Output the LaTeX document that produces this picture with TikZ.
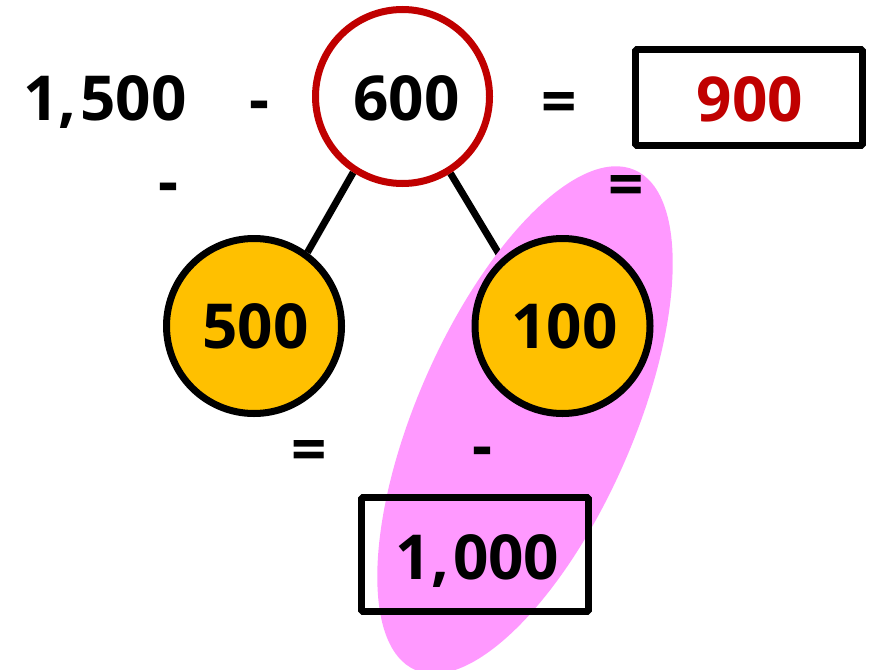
\documentclass[tikz,border=0pt]{standalone}
\usepackage{fontspec}
\setmainfont{Open Sans}[BoldFont={* Bold}]
\usetikzlibrary{backgrounds}
\definecolor{ringred}{HTML}{C00000}
\definecolor{ballorange}{HTML}{FFC000}
\definecolor{hilite}{HTML}{FF99FF}
\tikzset{
  num/.style={font=\fontsize{62}{62}\selectfont\bfseries, inner sep=0pt, anchor=base},
  sym/.style={font=\fontsize{62}{62}\selectfont\bfseries, inner sep=0pt, yshift=-8pt},
  ring/.style={circle, draw=ringred, line width=7pt, minimum size=174pt, inner sep=0pt, fill=white},
  ball/.style={circle, draw=black, line width=7pt, minimum size=175pt, inner sep=0pt, fill=ballorange},
  answerbox/.style={draw=black, line width=6.8pt, rounded corners=1.5pt, inner sep=0pt},
  link/.style={draw=black, line width=7pt}
}
\begin{document}
\begin{tikzpicture}[x=1pt,y=-1pt]
\useasboundingbox (0,0) rectangle (869,669);
\fill[hilite, rotate around={66.3:(525,420)}] (525,420) ellipse [x radius=273, y radius=108];
% boxes
\node[answerbox, minimum width=227pt, minimum height=96pt] (box900) at (749,97.5) {};
\node[answerbox, minimum width=227pt, minimum height=114pt] (box1000) at (475,554.5) {};
% circles
\node[ring] (top) at (402.5,96.5) {};
\node[ball] (left) at (254,326) {};
\node[ball] (right) at (562.5,326) {};
\begin{scope}[on background layer]
\draw[link] (top.-123) -- (left.54);
\draw[link] (top.-58) -- (right.132);
\end{scope}
% numbers
\node[num] (n1500) at (105,120) {1,\kern4pt500};
\node[num] (n600) at (406.5,120) {600};
\node[num, text=ringred] (n900) at (750,121) {900};
\node[num] (n500) at (255.5,348) {500};
\node[num] (n100) at (564.5,348) {100};
\node[num] (n1000) at (477.5,579) {1,\kern4pt000};
% operators
\node[sym] (m1) at (259,103) {-};
\node[sym] (m2) at (168,185) {-};
\node[sym] (e1) at (559,100) {=};
\node[sym] (e2) at (626,183) {=};
\node[sym] (e3) at (309,448) {=};
\node[sym] (m3) at (482,449) {-};
\end{tikzpicture}
\end{document}
